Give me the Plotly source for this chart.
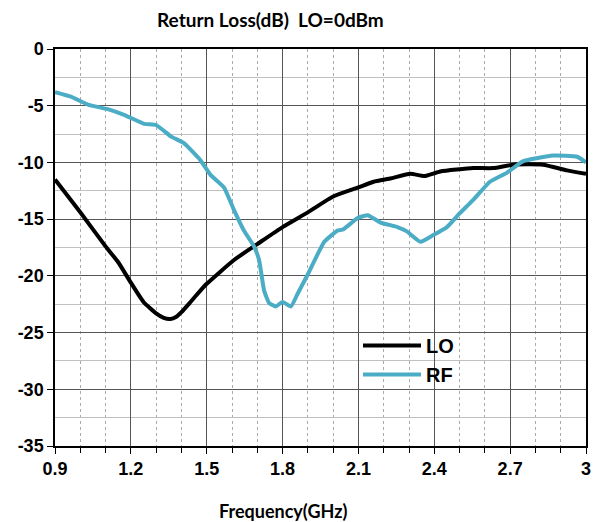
import plotly.graph_objects as go

lo_freq = [0.9, 1.0, 1.1, 1.15, 1.2, 1.25, 1.3, 1.33, 1.356, 1.38, 1.4, 1.436, 1.475, 1.5, 1.608, 1.70, 1.8, 1.9, 2.0, 2.1, 2.16, 2.23, 2.305, 2.36, 2.424, 2.554, 2.633, 2.712, 2.83, 2.925, 3.0]
lo_db = [-11.5, -14.4, -17.4, -18.8, -20.6, -22.3, -23.3, -23.7, -23.8, -23.6, -23.2, -22.3, -21.3, -20.7, -18.6, -17.2, -15.7, -14.4, -13.0, -12.2, -11.7, -11.4, -11.0, -11.2, -10.8, -10.5, -10.5, -10.2, -10.2, -10.7, -11.0]

rf_freq = [0.9, 0.963, 1.03, 1.108, 1.173, 1.253, 1.30, 1.358, 1.41, 1.475, 1.515, 1.568, 1.608, 1.647, 1.687, 1.707, 1.727, 1.747, 1.773, 1.8, 1.833, 1.859, 1.899, 1.965, 2.018, 2.04, 2.097, 2.137, 2.187, 2.254, 2.293, 2.345, 2.396, 2.45, 2.5, 2.554, 2.62, 2.688, 2.75, 2.87, 2.965, 3.0]
rf_db = [-3.8, -4.2, -4.9, -5.3, -5.8, -6.6, -6.7, -7.7, -8.3, -9.8, -11.1, -12.2, -14.2, -16.0, -17.4, -18.6, -21.3, -22.4, -22.7, -22.3, -22.7, -21.6, -19.9, -17.0, -16.0, -15.9, -14.9, -14.65, -15.3, -15.7, -16.1, -17.0, -16.4, -15.7, -14.5, -13.3, -11.7, -10.9, -9.9, -9.4, -9.5, -10.0]

x_ticks = [0.9, 1.2, 1.5, 1.8, 2.1, 2.4, 2.7, 3.0]
x_labels = ["0.9", "1.2", "1.5", "1.8", "2.1", "2.4", "2.7", "3"]
y_ticks = [0, -5, -10, -15, -20, -25, -30, -35]
y_labels = ["0", "-5", "-10", "-15", "-20", "-25", "-30", "-35"]

fig = go.Figure()
fig.add_trace(go.Scatter(x=lo_freq, y=lo_db, name="LO", mode="lines",
                         line=dict(color="black", width=4, shape="spline", smoothing=0.5)))
fig.add_trace(go.Scatter(x=rf_freq, y=rf_db, name="RF", mode="lines",
                         line=dict(color="#4BACC6", width=4, shape="spline", smoothing=0.4)))

tick_font = dict(family="Liberation Sans, Arial", size=18, color="black", weight="bold")
title_font = dict(family="Lato, Open Sans", size=19, color="black", weight="bold")
xtitle_font = dict(family="Lato, Open Sans", size=18, color="black", weight="bold")

W, H = 593, 522
L, R, T, B = 55, 7, 49, 76
PW, PH = W - L - R, H - T - B


def px_x(p):
    return (p - L) / PW


def px_y(p):
    return (H - B - p) / PH


fig.update_layout(
    width=W, height=H,
    margin=dict(l=L, r=R, t=T, b=B),
    plot_bgcolor="white", paper_bgcolor="white",
    showlegend=True,
    legend=dict(x=px_x(358), y=px_y(326), xanchor="left", yanchor="top",
                bgcolor="rgba(0,0,0,0)", borderwidth=0,
                font=dict(family="Liberation Sans, Arial", size=20, color="black", weight="bold"),
                itemwidth=58, tracegroupgap=2),
    xaxis=dict(range=[0.9, 3.0], tickvals=x_ticks, ticktext=x_labels,
               tickfont=tick_font, showgrid=True, gridcolor="#555555", gridwidth=1.2,
               showline=True, linecolor="black", linewidth=1.5, mirror=True,
               ticks="outside", ticklen=6, tickcolor="black", zeroline=False,
               automargin=False, ticklabeloverflow="allow",
               minor=dict(dtick=0.1, tick0=0.9, showgrid=True, griddash="dot",
                          gridcolor="#aaaaaa", gridwidth=1, ticks="outside",
                          ticklen=5, tickcolor="black")),
    yaxis=dict(range=[-35, 0], tickvals=y_ticks, ticktext=y_labels,
               tickfont=tick_font, showgrid=True, gridcolor="#555555", gridwidth=1.2,
               showline=True, linecolor="black", linewidth=1.5, mirror=True,
               ticks="outside", ticklen=6, tickcolor="black", zeroline=False,
               automargin=False,
               minor=dict(dtick=2.5, tick0=0, showgrid=True, gridcolor="#c0c0c0",
                          gridwidth=1)),
    shapes=[dict(type="rect", xref="paper", yref="paper",
                 x0=px_x(324), x1=px_x(489), y0=px_y(391), y1=px_y(330),
                 fillcolor="white", line=dict(width=0), layer="between")],
    annotations=[
        dict(text="Return Loss(dB)&nbsp;&nbsp;LO=0dBm", xref="paper", yref="paper",
             x=px_x(270), y=px_y(20), xanchor="center", yanchor="middle",
             showarrow=False, font=title_font),
        dict(text="Frequency(GHz)", xref="paper", yref="paper",
             x=px_x(283), y=px_y(511), xanchor="center", yanchor="middle",
             showarrow=False, font=xtitle_font),
    ],
)

fig.write_html("out.html",
               config={"displayModeBar": False},
               post_script="document.body.style.margin='0px';"
                           "document.documentElement.style.overflow='hidden';")
